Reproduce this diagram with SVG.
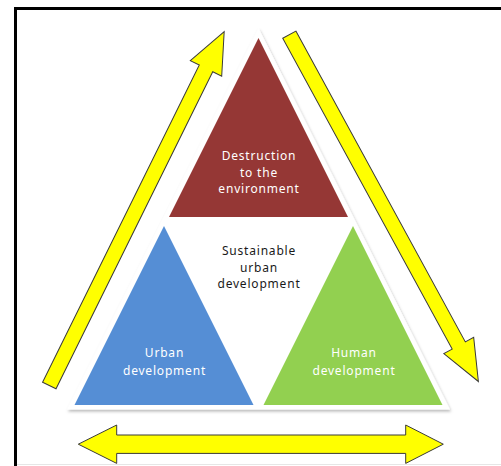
<svg xmlns="http://www.w3.org/2000/svg" width="501" height="466" viewBox="0 0 501 466">
  <defs>
    <filter id="soft-shadow" x="-10%" y="-10%" width="120%" height="120%">
      <feDropShadow dx="1" dy="2" stdDeviation="1.5" flood-color="#000" flood-opacity="0.28"/>
    </filter>
  </defs>
  <style>
    .frame { fill: none; stroke: #000; stroke-width: 3; }
    .page-edge { stroke: #e6e6e6; stroke-width: 1; }
    .arrow { fill: #ffff00; stroke: #3a3a3a; stroke-width: 1; stroke-linejoin: miter; }
    .label { font-family: "Noto Sans", "Liberation Sans", sans-serif; font-size: 12px; letter-spacing: 0.8px; text-anchor: middle; }
    .light { fill: #ffffff; }
    .dark { fill: #1a1a1a; }
  </style>

  <rect width="501" height="466" fill="#ffffff"/>
  <line class="page-edge" x1="17" y1="464.5" x2="501" y2="464.5"/>
  <rect class="frame" x="15.5" y="8.5" width="520" height="500"/>

  <!-- white backing of the segmented pyramid -->
  <polygon id="pyramid-base" points="258.5,28 67,409.5 450,409.5" fill="#ffffff" filter="url(#soft-shadow)"/>

  <g id="node-destruction">
    <polygon points="258.5,38 169,217 348,217" fill="#953735"/>
    <text class="label light" x="259" y="160">Destruction</text>
    <text class="label light" x="259" y="176.5">to the</text>
    <text class="label light" x="259" y="193">environment</text>
  </g>

  <g id="node-sustainable">
    <text class="label dark" x="259" y="255">Sustainable</text>
    <text class="label dark" x="259" y="271.5">urban</text>
    <text class="label dark" x="259" y="288">development</text>
  </g>

  <g id="node-urban">
    <polygon points="164,226 74.5,405 253.5,405" fill="#558ed5"/>
    <text class="label light" x="164.5" y="357">Urban</text>
    <text class="label light" x="164.5" y="375">development</text>
  </g>

  <g id="node-human">
    <polygon points="353,226 263.5,405 442.5,405" fill="#92d050"/>
    <text class="label light" x="354" y="357">Human</text>
    <text class="label light" x="354" y="375">development</text>
  </g>

  <g id="connectors">
    <!-- rising arrow on the left side -->
    <path class="arrow" transform="translate(49.3,385.5) rotate(-63.7)"
          d="M0,-7.5 H353.7 V-17.5 L394.7,0 L353.7,17.5 V7.5 H0 Z"/>
    <!-- falling arrow on the right side -->
    <path class="arrow" transform="translate(289.3,34.7) rotate(61.4)"
          d="M0,-7.5 H354 V-17 L395,0 L354,17 V7.5 H0 Z"/>
    <!-- two-way arrow along the base -->
    <polygon class="arrow" points="78.3,444.2 116.7,425 116.7,435 405.7,435 405.7,425 443.3,444.2 405.7,463.4 405.7,453.4 116.7,453.4 116.7,463.4"/>
  </g>
</svg>
